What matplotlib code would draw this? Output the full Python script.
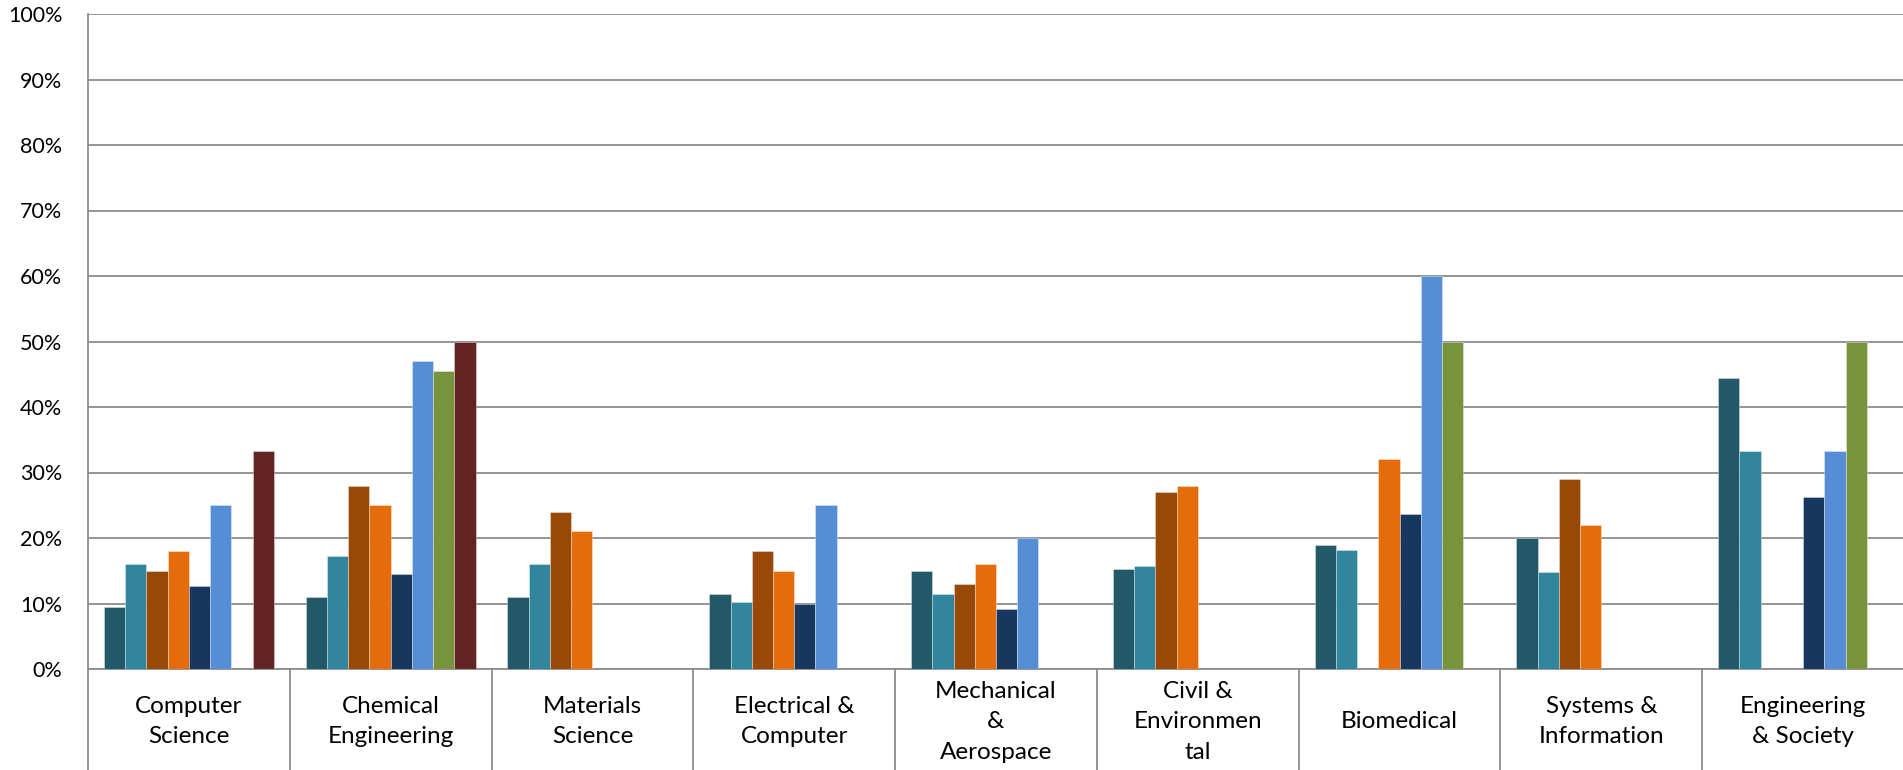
import matplotlib.pyplot as plt
import numpy as np

nan = np.nan

categories = ["Computer\nScience", "Chemical\nEngineering", "Materials\nScience",
              "Electrical &\nComputer", "Mechanical\n&\nAerospace",
              "Civil &\nEnvironmen\ntal", "Biomedical", "Systems &\nInformation",
              "Engineering\n& Society"]

# one list per series (percent), nan = no bar
s1 = [9.4, 11.0, 11.0, 11.5, 15.0, 15.3, 19.0, 20.0, 44.4]
s2 = [16.0, 17.3, 16.0, 10.3, 11.4, 15.7, 18.2, 14.8, 33.3]
s3 = [15.0, 28.0, 24.0, 18.0, 13.0, 27.0, nan, 29.0, nan]
s4 = [18.0, 25.0, 21.0, 15.0, 16.0, 28.0, 32.0, 22.0, nan]
s5 = [12.7, 14.5, nan, 10.0, 9.1, nan, 23.7, nan, 26.3]
s6 = [25.0, 47.0, nan, 25.0, 20.0, nan, 60.0, nan, 33.3]
s7 = [nan, 45.5, nan, nan, nan, nan, 50.0, nan, 50.0]
s8 = [33.3, 50.0, nan, nan, nan, nan, nan, nan, nan]

series = [s1, s2, s3, s4, s5, s6, s7, s8]
colors = ["#215968", "#31859C", "#984807", "#E46C0A",
          "#17375E", "#558ED5", "#77933C", "#632523"]

y_ticks = np.arange(0, 101, 10)

# ==================================================================

plt.rcParams['font.family'] = ['Lato', 'DejaVu Sans']

fig = plt.figure(figsize=(19.03, 7.70), dpi=100)
ax = fig.add_axes([88 / 1903, 101 / 770, 1816 / 1903, 655 / 770])

grid_col = "#8c8c8c"
n = len(series)
w = 1.0 / (n + 1.5)
x = np.arange(len(categories))

for j, (vals, col) in enumerate(zip(series, colors)):
    ax.bar(x + (j - (n - 1) / 2) * w, vals, width=w, color=col,
           edgecolor=(1, 1, 1, 0.35), linewidth=0.7, zorder=3)

ax.set_xlim(-0.5, len(categories) - 0.5)
ax.set_ylim(0, 100)
ax.set_yticks(y_ticks)
ax.set_yticklabels([f"{v}%" for v in y_ticks], fontsize=15.5)
ax.yaxis.grid(True, color=grid_col, linewidth=1.3, zorder=0)
ax.tick_params(axis='y', length=0, pad=18.5)

# category separators below the axis
ax.set_xticks(np.arange(-0.5, len(categories) + 0.5, 1.0))
ax.set_xticklabels([])
ax.tick_params(axis='x', length=75, width=1.3, color=grid_col, direction='out')

for s in ['top', 'right']:
    ax.spines[s].set_visible(False)
for s in ['left', 'bottom']:
    ax.spines[s].set_color(grid_col)
    ax.spines[s].set_linewidth(1.3)

for i, lab in enumerate(categories):
    ax.annotate(lab, xy=(i, 0), xycoords=('data', 'axes fraction'),
                xytext=(0, -38), textcoords='offset points',
                ha='center', va='center', fontsize=17.5, linespacing=1.55)

plt.savefig("out.png", dpi=100)
